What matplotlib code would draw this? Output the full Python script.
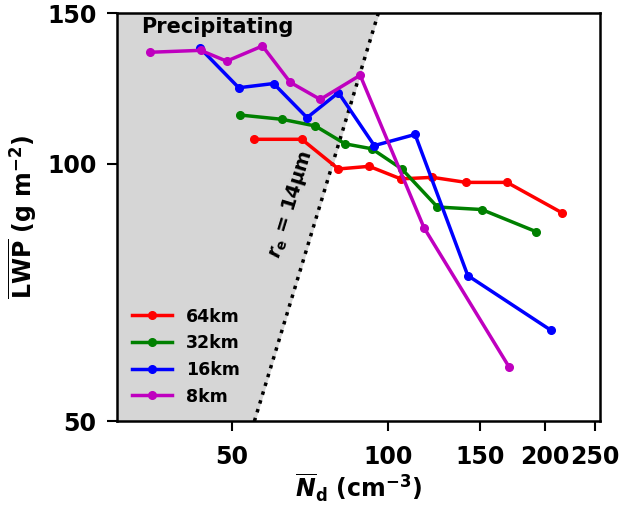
import numpy as np
import matplotlib
matplotlib.use("Agg")
import matplotlib.pyplot as plt
from matplotlib.ticker import FixedLocator, NullLocator, FixedFormatter

plt.rcParams['font.family'] = ['DejaVu Sans']
plt.rcParams['font.weight'] = 'bold'
plt.rcParams['mathtext.fontset'] = 'custom'
plt.rcParams['mathtext.rm'] = 'DejaVu Sans:bold'
plt.rcParams['mathtext.bf'] = 'DejaVu Sans:bold'
plt.rcParams['mathtext.it'] = 'DejaVu Sans:bold:italic'
plt.rcParams['mathtext.default'] = 'bf'

# Data
nd_64 = [55.0, 68.1, 80.1, 91.8, 105.6, 121.5, 141.0, 169.1, 215.9]
lwp_64 = [106.8, 106.8, 98.6, 99.3, 96.0, 96.4, 95.1, 95.1, 87.6]
nd_32 = [51.9, 62.4, 72.3, 82.5, 92.9, 106.1, 124.2, 151.1, 192.2]
lwp_32 = [114.0, 112.7, 110.7, 105.5, 104.1, 98.6, 89.0, 88.4, 83.3]
nd_16 = [43.4, 51.5, 60.1, 69.7, 80.1, 93.9, 112.5, 142.1, 205.1]
lwp_16 = [136.5, 122.7, 124.1, 113.2, 121.1, 105.0, 108.2, 74.0, 63.9]
nd_8 = [34.8, 43.5, 48.8, 57.2, 64.7, 73.9, 88.2, 117.0, 170.5]
lwp_8 = [135.0, 135.7, 131.8, 137.3, 124.5, 118.9, 126.9, 84.2, 57.9]

labels = ['64km', '32km', '16km', '8km']
colors = ['r', 'g', 'b', 'm']

# r_e = 14 um threshold line: LWP = c * Nd^2
re_coef = 0.01641
xticks = [50, 100, 150, 200, 250]
yticks = [50, 100, 150]

fig = plt.figure(figsize=(6.28, 5.05), dpi=100)
ax = fig.add_axes([0.186, 0.166, 0.769, 0.808])
ax.set_xscale('log')
ax.set_yscale('log')
xmin, xmax = 30, 255
ymin, ymax = 50, 150
ax.set_xlim(xmin, xmax)
ax.set_ylim(ymin, ymax)

yy = np.geomspace(ymin, ymax, 200)
xline = np.sqrt(yy / re_coef)
ax.fill_betweenx(yy, xmin, xline, color='#d6d6d6', zorder=0)
ax.plot(xline, yy, ':', color='k', lw=2.5, zorder=1)

for nd, lwp, lab, c in zip([nd_64, nd_32, nd_16, nd_8],
                           [lwp_64, lwp_32, lwp_16, lwp_8], labels, colors):
    ax.plot(nd, lwp, '-o', color=c, lw=2.5, ms=5.5, label=lab, zorder=3)

ax.text(65.0, 89.6, r'$\mathit{r}_{\mathbf{e}}$ = 14μm', rotation=73,
        rotation_mode='anchor', ha='center', va='center', fontsize=14,
        fontweight='bold')
ax.text(0.05, 0.99, 'Precipitating', transform=ax.transAxes, ha='left',
        va='top', fontsize=15, fontweight='bold')

ax.xaxis.set_major_locator(FixedLocator(xticks))
ax.xaxis.set_major_formatter(FixedFormatter([str(t) for t in xticks]))
ax.xaxis.set_minor_locator(NullLocator())
ax.yaxis.set_major_locator(FixedLocator(yticks))
ax.yaxis.set_major_formatter(FixedFormatter([str(t) for t in yticks]))
ax.yaxis.set_minor_locator(NullLocator())
ax.tick_params(labelsize=17, width=1.5, length=7.5)
ax.tick_params(axis='x', pad=10)
ax.tick_params(axis='y', pad=7)
for lab in ax.get_xticklabels() + ax.get_yticklabels():
    lab.set_fontweight('bold')
for s in ax.spines.values():
    s.set_linewidth(1.8)

ax.set_xlabel(r'$\overline{\mathit{N}}_{\mathbf{d}}$ (cm$^{-3}$)', fontsize=17,
              fontweight='bold', labelpad=2)
ax.set_ylabel(r'$\overline{\mathbf{LWP}}$ (g m$^{-2}$)', fontsize=17,
              fontweight='bold', labelpad=6)

leg = ax.legend(loc='lower left', bbox_to_anchor=(0.0, 0.0), frameon=False,
                prop={'weight': 'bold', 'size': 12.5}, handlelength=2.3)

fig.savefig('out.png', dpi=100)
